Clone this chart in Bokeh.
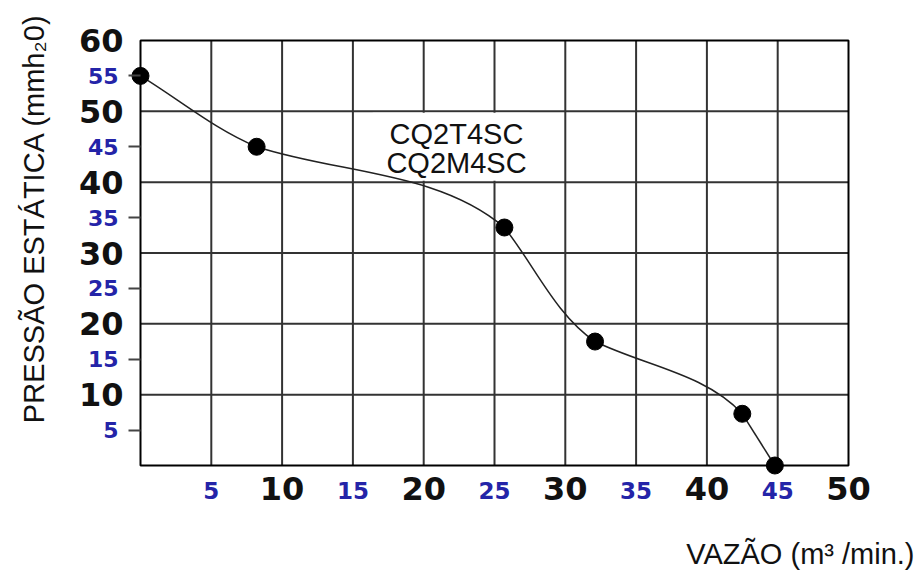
import math
import numpy as np
from bokeh.plotting import figure
from bokeh.core.properties import value
from bokeh.models import (Range1d, FixedTicker, Label, LabelSet, ColumnDataSource, LinearAxis)
from bokeh.embed import file_html
from bokeh.resources import INLINE

# ---- data ----
flow = [0.0, 8.2, 25.7, 32.1, 42.5, 44.8]          # VAZÃO (m³/min.)
pressure = [55.0, 45.0, 33.6, 17.5, 7.3, 0.0]      # PRESSÃO ESTÁTICA (mmH2O)
x_major = [10, 20, 30, 40, 50]
x_minor = [5, 15, 25, 35, 45]
y_major = [10, 20, 30, 40, 50, 60]
y_minor = [5, 15, 25, 35, 45, 55]
x_grid = [5, 10, 15, 20, 25, 30, 35, 40, 45]
y_grid = [10, 20, 30, 40, 50]
model_lines = ["CQ2T4SC", "CQ2M4SC"]

BLUE = "#2424a8"
DARK = "#111111"
GRID = "#333333"

W, H = 919, 571
# pixel box of the chart area inside the canvas
BL, BT, BR, BB = 140, 40, 848, 465
XMAX, YMAX = 50, 60
kx = (BR - BL) / XMAX
ky = (BB - BT) / YMAX

p = figure(width=W, height=H, output_backend="svg", toolbar_location=None,
           x_range=Range1d(-BL / kx, (W - BL) / kx),
           y_range=Range1d(-(H - BB) / ky, BB / ky),
           x_axis_location=None, y_axis_location=None,
           min_border=0)
p.min_border_left = p.min_border_right = p.min_border_top = p.min_border_bottom = 0
p.background_fill_color = "white"
p.border_fill_color = "white"
p.outline_line_color = None
p.grid.visible = False

# grid lines (within the chart box)
p.segment(x0=x_grid, y0=[0] * len(x_grid), x1=x_grid, y1=[YMAX] * len(x_grid),
          line_color=GRID, line_width=2)
p.segment(x0=[0] * len(y_grid), y0=y_grid, x1=[XMAX] * len(y_grid), y1=y_grid,
          line_color=GRID, line_width=2)

# white box behind the model names
p.quad(left=[16.4], right=[27.5], bottom=[40.2], top=[49.8],
       fill_color="white", line_color=None)

# chart outline
p.quad(left=[0], right=[XMAX], bottom=[0], top=[YMAX],
       fill_color=None, line_color="black", line_width=2)

# axes fixed at the chart's edges
xax = LinearAxis(fixed_location=0, ticker=FixedTicker(ticks=x_major, minor_ticks=[]))
yax = LinearAxis(fixed_location=0, ticker=FixedTicker(ticks=y_major, minor_ticks=y_minor))
for ax in (xax, yax):
    ax.axis_line_color = None
    ax.major_tick_out = 0
    ax.major_tick_in = 0
    ax.minor_tick_in = 0
    ax.major_label_text_font = "DejaVu Sans"
    ax.major_label_text_font_style = "bold"
    ax.major_label_text_font_size = "32px"
    ax.major_label_text_color = DARK
xax.minor_tick_line_color = None
xax.major_label_standoff = 11
yax.minor_tick_out = 12
yax.minor_tick_line_color = "#444444"
yax.minor_tick_line_width = 2
yax.major_label_standoff = 5
p.add_layout(xax, "below")
p.add_layout(yax, "left")

# smooth curve through the points (bezier control points from the data)
P = np.column_stack([np.array(flow) * kx, np.array(pressure) * ky])
n = len(P)
chords = P[1:] - P[:-1]
lens = np.hypot(chords[:, 0], chords[:, 1])
units = chords / lens[:, None]
x0, y0, x1, y1, cx0, cy0, cx1, cy1 = ([] for _ in range(8))
for i in range(n - 1):
    a, b = P[i], P[i + 1]
    c1 = a + chords[i] / 3.0
    if i + 1 < n - 1:
        t = units[i] + 2 * units[i + 1]
        t = t / np.hypot(*t)
    else:
        t = units[i]
    c2 = b - t * lens[i] / 3.0
    x0.append(a[0] / kx); y0.append(a[1] / ky)
    x1.append(b[0] / kx); y1.append(b[1] / ky)
    cx0.append(c1[0] / kx); cy0.append(c1[1] / ky)
    cx1.append(c2[0] / kx); cy1.append(c2[1] / ky)
bz = ColumnDataSource(dict(x0=x0, y0=y0, x1=x1, y1=y1, cx0=cx0, cy0=cy0, cx1=cx1, cy1=cy1))
p.bezier(x0="x0", y0="y0", x1="x1", y1="y1", cx0="cx0", cy0="cy0", cx1="cx1", cy1="cy1",
         source=bz, line_color="#222222", line_width=1.5)

p.scatter(flow, pressure, size=17, marker="circle", fill_color="black", line_color="black")

# blue intermediate tick labels
xs = ColumnDataSource(dict(x=x_minor, y=[-25 / ky] * len(x_minor), t=[str(v) for v in x_minor]))
p.add_layout(LabelSet(x="x", y="y", text="t", source=xs, text_align="center",
                      text_baseline="middle", text_font=value("DejaVu Sans"),
                      text_font_style="bold", text_font_size=value("23px"), text_color=BLUE))
ys = ColumnDataSource(dict(x=[-22 / kx] * len(y_minor), y=y_minor, t=[str(v) for v in y_minor]))
p.add_layout(LabelSet(x="x", y="y", text="t", source=ys, text_align="right",
                      text_baseline="middle", text_font=value("DejaVu Sans"),
                      text_font_style="bold", text_font_size=value("22px"), text_color=BLUE))

# model names
for line, py in zip(model_lines, (133, 162)):
    p.add_layout(Label(x=(456 - BL) / kx, y=(BB - py) / ky, text=line, text_align="center",
                       text_baseline="middle", text_font="Liberation Sans",
                       text_font_size="29px", text_color="#111111"))

# axis titles
p.add_layout(Label(x=(33 - BL) / kx, y=(BB - 218) / ky, text="PRESSÃO ESTÁTICA (mmh\u20820)",
                   angle=math.pi / 2, text_align="center", text_baseline="middle",
                   text_font="Liberation Sans", text_font_size="29px", text_color="#111111"))
p.add_layout(Label(x=(914 - BL) / kx, y=(BB - 553) / ky, text="VAZÃO (m³ /min.)",
                   text_align="right", text_baseline="middle", text_font="Liberation Sans",
                   text_font_size="29px", text_color="#111111"))

open("out.html", "w").write(file_html(p, INLINE))
